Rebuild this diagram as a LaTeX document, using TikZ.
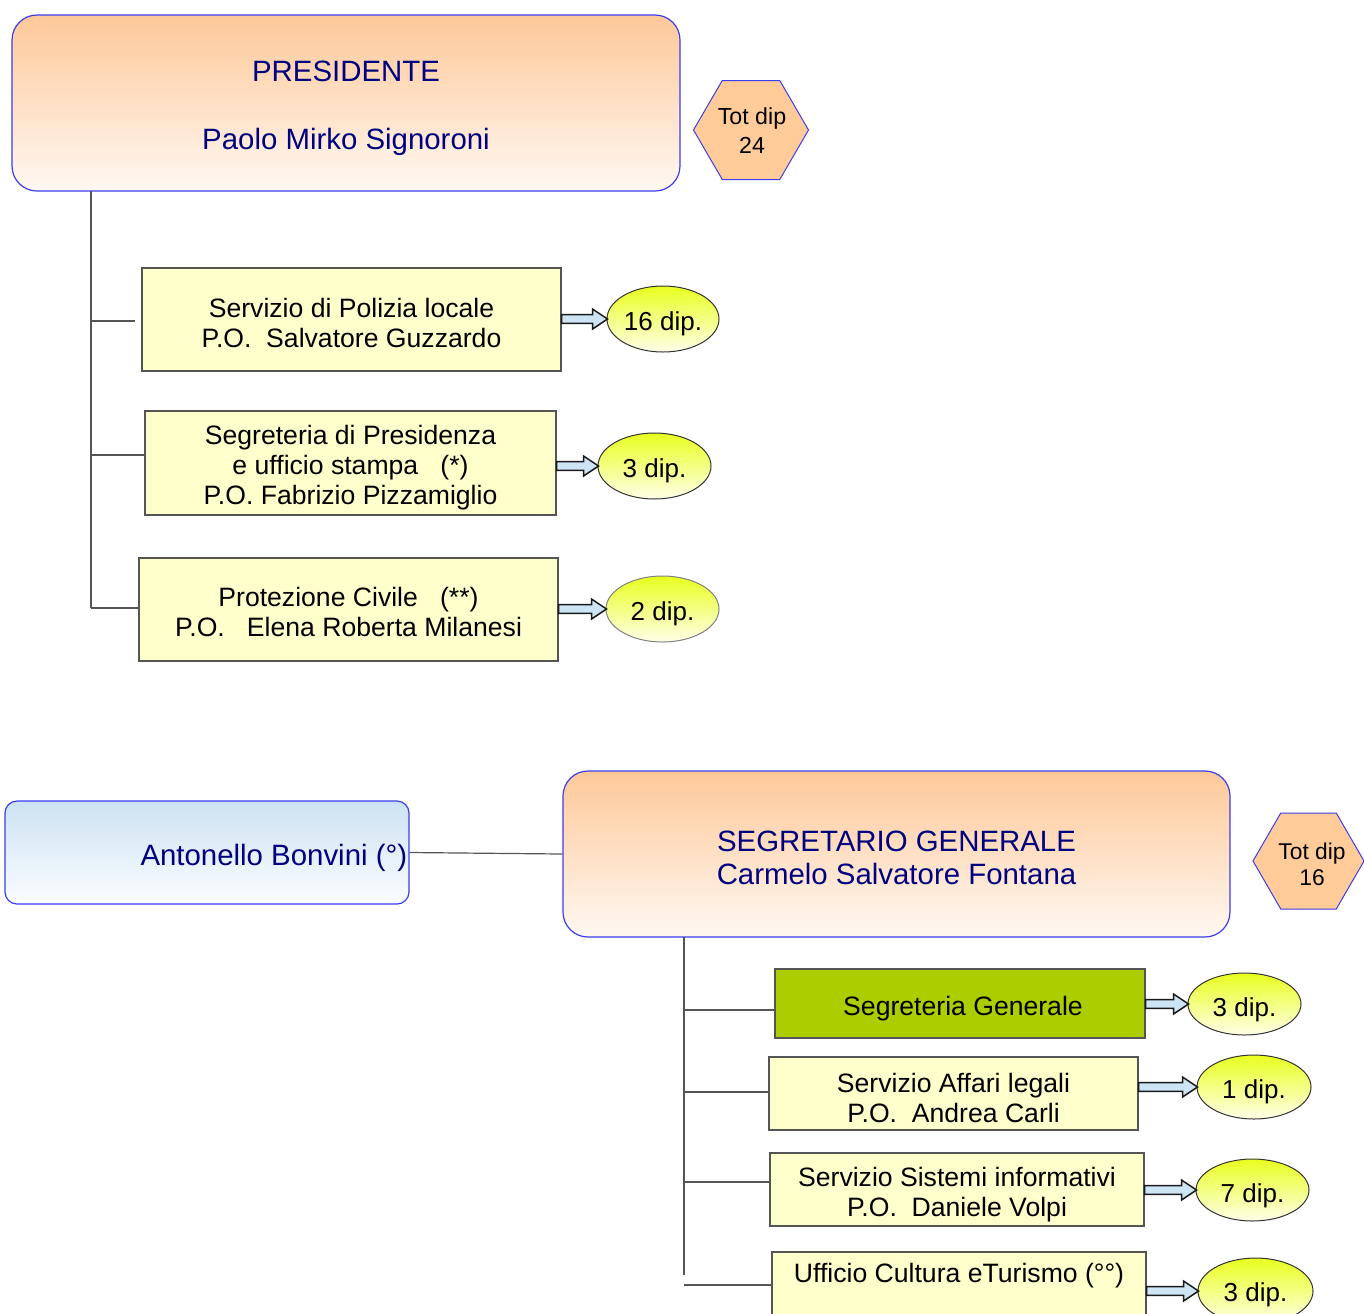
\documentclass[tikz,border=0pt]{standalone}
\usepackage{fontspec}
\setmainfont{Liberation Sans}
\usetikzlibrary{shapes.geometric,calc}
\definecolor{navy}{HTML}{000080}
\definecolor{bordblue}{HTML}{3C3CF0}
\definecolor{orangetop}{HTML}{FDC898}
\definecolor{orangebot}{HTML}{FFF8F2}
\definecolor{bluetop}{HTML}{CCE2F2}
\definecolor{bluebot}{HTML}{FBFDFF}
\definecolor{boxyellow}{HTML}{FFFFCC}
\definecolor{sggreen}{HTML}{ACCD00}
\definecolor{elltop}{HTML}{E8FF1E}
\definecolor{ellbot}{HTML}{FFFFE8}
\definecolor{arrowblue}{HTML}{CCE4F4}
\definecolor{hexfill}{HTML}{FFCC99}
\definecolor{linegray}{HTML}{555555}
\tikzset{
  headbox/.style={draw=bordblue, line width=0.6pt, rounded corners=12.5pt, top color=orangetop, bottom color=orangebot, inner sep=0pt},
  headtxt/.style={text=navy, font=\fontsize{14.7}{17}\selectfont, align=center, inner sep=0pt},
  antbox/.style={draw=bordblue, line width=0.6pt, rounded corners=6pt, top color=bluetop, bottom color=bluebot, inner sep=0pt},
  unitbox/.style={draw=linegray, line width=0.6pt, fill=boxyellow, inner sep=0pt},
  unittxt/.style={font=\fontsize{13.3}{15}\selectfont, align=center, inner sep=0pt},
  dipell/.style={ellipse, draw=black!80, line width=0.5pt, top color=elltop, bottom color=ellbot, inner sep=0pt},
  diptxt/.style={font=\fontsize{13}{15}\selectfont, inner sep=0pt},
  tree/.style={draw=linegray, line width=0.6pt},
  fatarrowsty/.style={draw=black!90, line width=0.75pt, fill=arrowblue, line join=miter},
  hexsty/.style={draw=bordblue, line width=0.5pt, fill=hexfill},
}
\newcommand{\fatarrow}[2]{%
  \draw[fatarrowsty] let \p1=(#1.east), \p2=(#2.west) in
  (\x1,\y2+2.2pt) -- (\x2-7pt,\y2+2.2pt) -- (\x2-7pt,\y2+5pt) -- (\x2+0.5pt,\y2)
  -- (\x2-7pt,\y2-5pt) -- (\x2-7pt,\y2-2.2pt) -- (\x1,\y2-2.2pt) -- cycle;}
\newcommand{\hexagon}[3]{% center, radius, half-height
  \draw[hexsty] ($(#1)+(-#2,0)$) -- ($(#1)+(-#2/2,-#3)$) -- ($(#1)+(#2/2,-#3)$)
  -- ($(#1)+(#2,0)$) -- ($(#1)+(#2/2,#3)$) -- ($(#1)+(-#2/2,#3)$) -- cycle;}
\begin{document}
\begin{tikzpicture}[x=0.5pt,y=-0.5pt]
\useasboundingbox (0,0) rectangle (1364,1313);

% ---------- Presidente ----------
\node[headbox, minimum width=334pt, minimum height=88pt] (pres) at (346,103) {};
\node[headtxt] (prest) at ([yshift=-2.5pt]pres.center) {PRESIDENTE\\[17pt]Paolo Mirko Signoroni};
\coordinate (h1c) at (751,130);
\hexagon{h1c}{57.5}{49.5}
\node[font=\fontsize{11.6}{14.5}\selectfont, align=center, inner sep=0pt] (h1) at (752,131) {Tot dip\\24};

\node[unitbox, minimum width=209.5pt, minimum height=51.5pt] (b1) at (351.5,319.5) {};
\node[unittxt] (b1t) at ([yshift=-1.5pt]b1.center) {Servizio di Polizia locale\\P.O.\ \ Salvatore Guzzardo};
\node[unitbox, minimum width=205.5pt, minimum height=52pt] (b2) at (350.5,463) {};
\node[unittxt] (b2t) at ([yshift=-2.5pt]b2.center) {Segreteria di Presidenza\\e ufficio stampa\ \ \ (*)\\P.O. Fabrizio Pizzamiglio};
\node[unitbox, minimum width=209.5pt, minimum height=51.5pt] (b3) at (348.5,609.5) {};
\node[unittxt] (b3t) at ([yshift=-1.4pt]b3.center) {Protezione Civile\ \ \ (**)\\P.O.\ \ \ Elena Roberta Milanesi};

\node[dipell, minimum width=56pt, minimum height=33pt] (e1) at (663,319) {};
\node[diptxt] (e1t) at ([yshift=-2.5pt]e1.center) {16 dip.};
\node[dipell, minimum width=56.5pt, minimum height=33pt] (e2) at (654.5,466) {};
\node[diptxt] (e2t) at ([yshift=-2.5pt]e2.center) {3 dip.};
\node[dipell, draw=black!50, minimum width=56.5pt, minimum height=33pt] (e3) at (662.5,609) {};
\node[diptxt] (e3t) at ([yshift=-2.5pt]e3.center) {2 dip.};

\fatarrow{b1}{e1}
\fatarrow{b2}{e2}
\fatarrow{b3}{e3}

\coordinate (t0) at (91,191);
\coordinate (t1) at (91,321);
\coordinate (t2) at (91,455);
\coordinate (t3) at (91,608);
\draw[tree] (t0) -- (t3);
\draw[tree, shorten >=3pt] (t1) -- (t1 -| b1.west);
\draw[tree] (t2) -- (t2 -| b2.west);
\draw[tree] (t3) -- (t3 -| b3.west);

% ---------- Segretario ----------
\node[antbox, minimum width=202pt, minimum height=51.5pt] (ant) at (207,852.5) {};
\node[headtxt, anchor=east] (antt) at ([xshift=-1pt,yshift=-2.5pt]ant.east) {Antonello Bonvini (°)};
\node[headbox, minimum width=333.5pt, minimum height=83pt] (seg) at (896.5,854) {};
\node[headtxt, font=\fontsize{14.7}{16.5}\selectfont] (segt) at ([yshift=-1.8pt]seg.center) {SEGRETARIO GENERALE\\Carmelo Salvatore Fontana};
\draw[tree] (ant.east) -- (seg.west);
\coordinate (h2c) at (1308.5,861);
\hexagon{h2c}{55.5}{48}
\node[font=\fontsize{11.4}{13}\selectfont, align=center, inner sep=0pt] (h2) at (1312,864) {Tot dip\\16};

\node[unitbox, fill=sggreen, minimum width=185pt, minimum height=34.5pt] (sg) at (960,1003.5) {};
\node[unittxt] (sgt) at ([xshift=1.5pt,yshift=-2.5pt]sg.center) {Segreteria Generale};
\node[unitbox, minimum width=184.5pt, minimum height=36.5pt] (af) at (953.5,1093.5) {};
\node[unittxt] (aft) at ([yshift=-2pt]af.center) {Servizio Affari legali\\P.O.\ \ Andrea Carli};
\node[unitbox, minimum width=187pt, minimum height=36.5pt] (si) at (957,1189.5) {};
\node[unittxt] (sit) at ([yshift=-2.5pt]si.center) {Servizio Sistemi informativi\\P.O.\ \ Daniele Volpi};
\node[unitbox, minimum width=187pt, minimum height=36.5pt] (cu) at (959,1288.5) {};
\node[unittxt, anchor=base] (cut) at ([yshift=-15.5pt]cu.north) {Ufficio Cultura eTurismo (°°)};

\node[dipell, minimum width=56.5pt, minimum height=31pt] (e4) at (1244.5,1004) {};
\node[diptxt] (e4t) at ([yshift=-2.8pt]e4.center) {3 dip.};
\node[dipell, minimum width=57pt, minimum height=32pt] (e5) at (1254,1087) {};
\node[diptxt] (e5t) at ([yshift=-2.5pt]e5.center) {1 dip.};
\node[dipell, minimum width=56.5pt, minimum height=31pt] (e6) at (1252.5,1190) {};
\node[diptxt] (e6t) at ([yshift=-2.8pt]e6.center) {7 dip.};
\node[dipell, minimum width=57.5pt, minimum height=33pt] (e7) at (1255.5,1291) {};
\node[diptxt] (e7t) at ([yshift=-1.8pt]e7.center) {3 dip.};

\fatarrow{sg}{e4}
\fatarrow{af}{e5}
\fatarrow{si}{e6}
\fatarrow{cu}{e7}

\coordinate (s0) at (684,937);
\coordinate (s5) at (684,1275);
\coordinate (s1) at (684,1010);
\coordinate (s2) at (684,1092);
\coordinate (s3) at (684,1182);
\coordinate (s4) at (684,1285);
\draw[tree] (s0) -- (s5);
\draw[tree] (s1) -- (s1 -| sg.west);
\draw[tree] (s2) -- (s2 -| af.west);
\draw[tree] (s3) -- (s3 -| si.west);
\draw[tree] (s4) -- (s4 -| cu.west);
\end{tikzpicture}
\end{document}
